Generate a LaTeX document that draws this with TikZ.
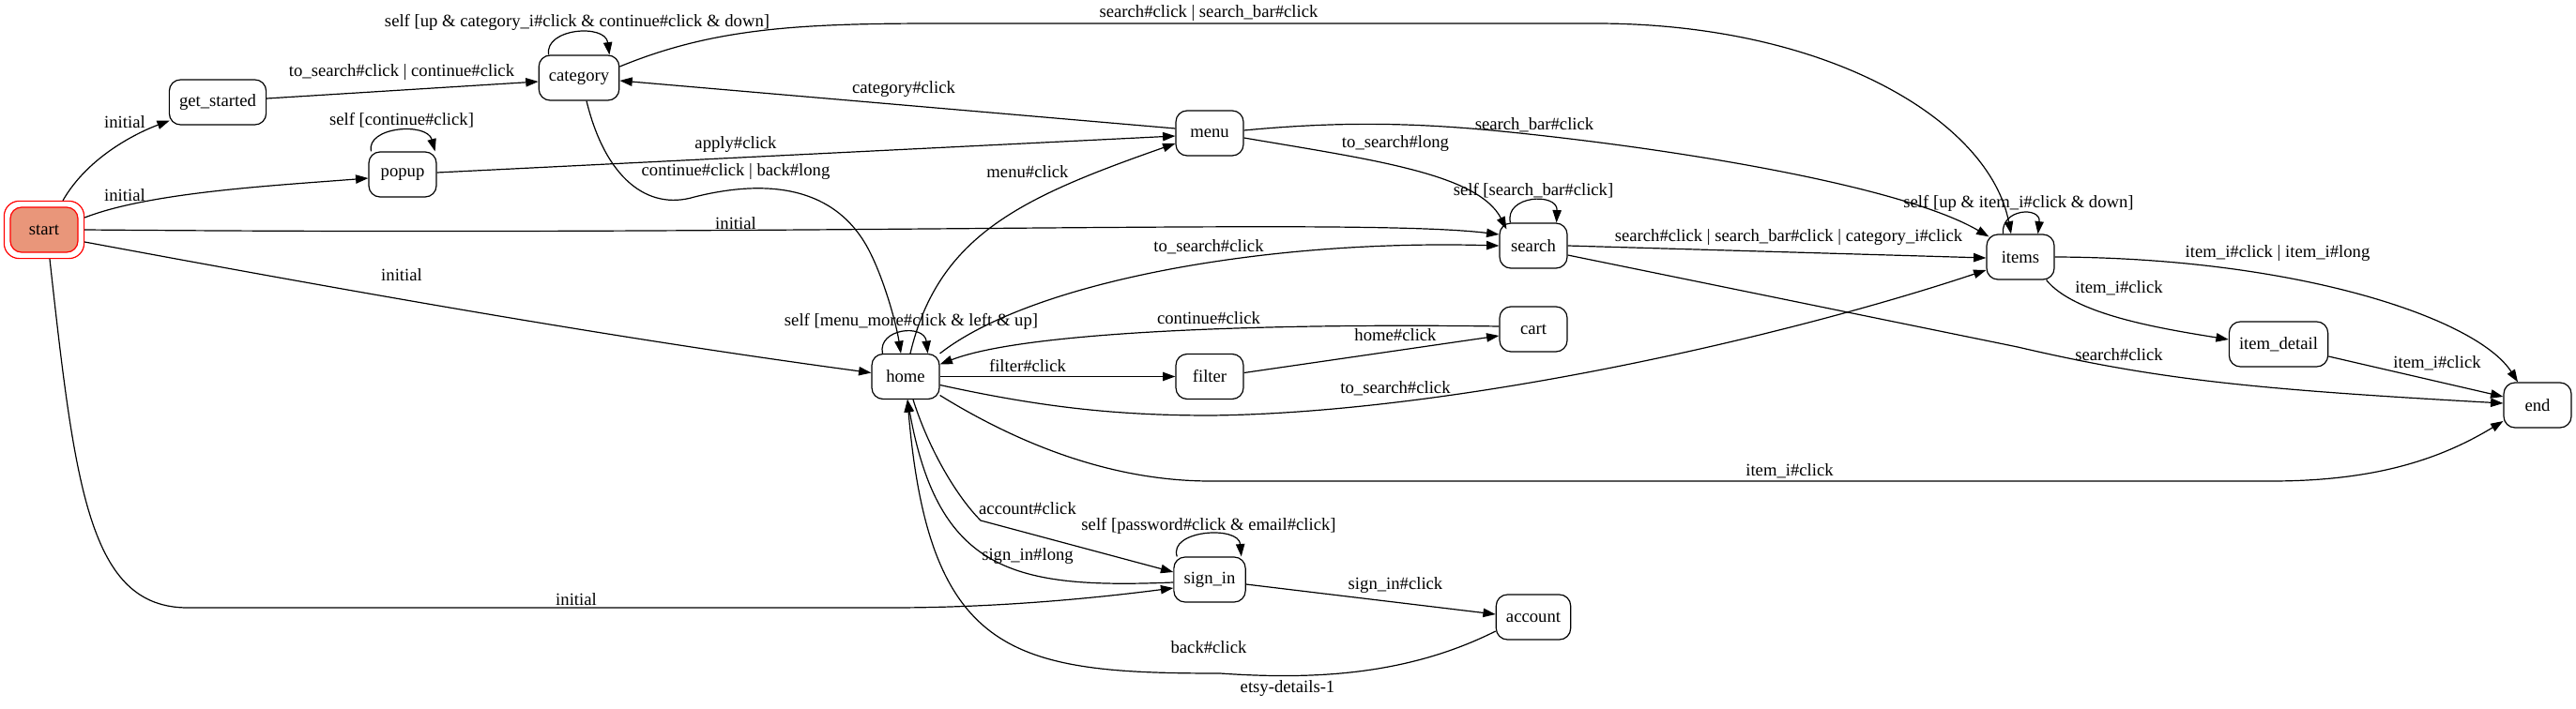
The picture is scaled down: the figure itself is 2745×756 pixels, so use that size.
\documentclass[tikz,border=0pt]{standalone}
\usepackage{fontspec}
\setmainfont{Liberation Serif}
\usetikzlibrary{arrows.meta,fit}
\definecolor{startfill}{RGB}{233,150,122}
\begin{document}
\begin{tikzpicture}[x=0.75pt,y=-0.75pt,
  st/.style={draw, rounded corners=9pt, minimum width=54pt, minimum height=36pt, inner xsep=8pt, inner ysep=4pt, font=\fontsize{14}{16}\selectfont, line width=0.9pt},
  lbl/.style={inner sep=0pt, font=\fontsize{14}{16}\selectfont},
  edge/.style={line width=0.9pt, -{Triangle[length=10pt,width=7pt]}},
]
\fill[white] (0,0) rectangle (2745,756);
\useasboundingbox (0,0) rectangle (2745,756);

% nodes
\node[st, fill=startfill, draw=red] (start) at (47,245) {start};
\node[draw=red, rounded corners=12pt, fit=(start), inner sep=4.5pt, line width=0.9pt] (startouter) {};
\node[st] (get_started) at (232,109) {get\_started};
\node[st] (popup) at (429,186) {popup};
\node[st] (category) at (617,83) {category};
\node[st] (menu) at (1289,142) {menu};
\node[st] (home) at (965,401.5) {home};
\node[st] (filter) at (1289,401.5) {filter};
\node[st] (search) at (1634,262) {search};
\node[st] (cart) at (1634,351) {cart};
\node[st] (items) at (2153,274) {items};
\node[st] (item_detail) at (2428,367) {item\_detail};
\node[st] (endst) at (2704,432) {end};
\node[st] (sign_in) at (1289,618) {sign\_in};
\node[st] (account) at (1634,658) {account};
\node[lbl] (title) at (1372,734) {etsy-details-1};

% edges
\draw[edge] ([shift={(20,0)}]startouter.north) .. controls (95,165) and (150,140) .. ([shift={(1,-5)}]get_started.south west);
\draw[edge] ([shift={(0,-13)}]startouter.east) .. controls (160,205) and (290,198) .. ([shift={(0,4)}]popup.west);
\draw[edge] (startouter.east) .. controls (900,252) and (1450,232) .. ([shift={(0,-12)}]search.west);
\draw[edge] ([shift={(0,13)}]startouter.east) .. controls (370,310) and (650,360) .. ([shift={(0,-4)}]home.west);
\draw[edge] ([shift={(6,0)}]startouter.south) .. controls (80,520) and (95,648) .. (200,648) -- (950,648) .. controls (1050,648) and (1150,640) .. ([shift={(0,9)}]sign_in.west);
\draw[edge] ([shift={(0,-4)}]get_started.east) -- ([shift={(0,4)}]category.west);
\draw[edge] ([shift={(3,0)}]popup.north west) .. controls (390,135) and (455,130) .. ([shift={(-2,0)}]popup.north east);
\draw[edge] ([shift={(0,-2)}]popup.east) -- ([shift={(0,3)}]menu.west);
\draw[edge] ([shift={(11,0)}]category.north west) .. controls (580,30) and (645,25) .. ([shift={(-11,0)}]category.north east);
\draw[edge] ([shift={(0,-12)}]category.east) .. controls (760,30) and (850,25) .. (1000,25) -- (1700,25) .. controls (1950,25) and (2120,130) .. ([shift={(-10,0)}]items.north);
\draw[edge] ([shift={(0,-5)}]menu.west) -- ([shift={(0,3)}]category.east);
\draw[edge] ([shift={(8,0)}]category.south) .. controls (645,190) and (690,225) .. (740,210) .. controls (820,190) and (890,200) .. (925,265) .. controls (942,297) and (955,345) .. ([shift={(-5,0)}]home.north);
\draw[edge] ([shift={(12,0)}]home.north west) .. controls (935,350) and (985,345) .. ([shift={(-13,0)}]home.north east);
\draw[edge] ([shift={(5,0)}]home.north) .. controls (1000,250) and (1090,210) .. ([shift={(0,11)}]menu.west);
\draw[edge] (home.north east) .. controls (1100,300) and (1350,255) .. (search.west);
\draw[edge] ([shift={(0,-3)}]cart.west) .. controls (1400,345) and (1100,350) .. ([shift={(0,-13)}]home.east);
\draw[edge] (home.east) -- (filter.west);
\draw[edge] ([shift={(0,-4)}]filter.east) -- ([shift={(0,7)}]cart.west);
\draw[edge] ([shift={(0,9)}]home.east) .. controls (1100,432) and (1180,443) .. (1290,443) .. controls (1550,440) and (1900,360) .. ([shift={(0,14)}]items.west);
\draw[edge] ([shift={(0,20)}]home.east) .. controls (1080,470) and (1180,513) .. (1290,513) -- (2420,513) .. controls (2530,513) and (2600,490) .. ([shift={(0,17)}]endst.west);
\draw[edge] ([shift={(8,0)}]home.south) .. controls (990,480) and (1020,530) .. (1045,555) -- ([shift={(0,-8)}]sign_in.west);
\draw[edge] ([shift={(0,3)}]sign_in.west) .. controls (1080,628) and (1000,610) .. ([shift={(2,0)}]home.south);
\draw[edge] ([shift={(4,0)}]sign_in.north west) .. controls (1245,565) and (1320,560) .. ([shift={(-5,0)}]sign_in.north east);
\draw[edge] ([shift={(0,5)}]sign_in.east) -- ([shift={(0,-3)}]account.west);
\draw[edge] ([shift={(0,15)}]account.west) .. controls (1500,720) and (1400,725) .. (1300,718) .. controls (1080,718) and (990,700) .. ([shift={(2,0)}]home.south);
\draw[edge] ([shift={(0,5)}]menu.east) .. controls (1460,170) and (1575,185) .. ([shift={(8,7)}]search.north west);
\draw[edge] ([shift={(0,-3)}]menu.east) .. controls (1420,130) and (1500,130) .. (1600,140) .. controls (1800,160) and (2030,200) .. ([shift={(3,3)}]items.north west);
\draw[edge] ([shift={(12,0)}]search.north west) .. controls (1603,208) and (1660,205) .. ([shift={(-12,0)}]search.north east);
\draw[edge] (search.east) -- ([shift={(0,1)}]items.west);
\draw[edge] ([shift={(0,10)}]search.east) -- (2150,370) .. controls (2300,405) and (2400,415) .. ([shift={(0,-2)}]endst.west);
\draw[edge] ([shift={(18,0)}]items.north west) .. controls (2132,222) and (2175,220) .. ([shift={(-18,0)}]items.north east);
\draw[edge] (items.east) .. controls (2450,275) and (2640,340) .. ([shift={(-21,0)}]endst.north);
\draw[edge] ([shift={(-9,0)}]items.south east) .. controls (2210,335) and (2300,350) .. ([shift={(0,-5)}]item_detail.west);
\draw[edge] ([shift={(0,13)}]item_detail.east) -- ([shift={(0,-9)}]endst.west);

% labels
\node[lbl] (l1) at (133,130) {initial};
\node[lbl] (l2) at (133,208) {initial};
\node[lbl] (l3) at (784,238) {initial};
\node[lbl] (l4) at (428,293) {initial};
\node[lbl] (l5) at (614,639) {initial};
\node[lbl] (l6) at (428,77) {to\_search\#click | continue\#click};
\node[lbl] (l7) at (428,128) {self [continue\#click]};
\node[lbl] (l8) at (784,154) {apply\#click};
\node[lbl] (l9) at (615,24) {self [up \& category\_i\#click \& continue\#click \& down]};
\node[lbl] (l10) at (1288,14) {search\#click | search\_bar\#click};
\node[lbl] (l11) at (963,95) {category\#click};
\node[lbl] (l12) at (784,183) {continue\#click | back\#long};
\node[lbl] (l13) at (971,343) {self [menu\_more\#click \& left \& up]};
\node[lbl] (l14) at (1095,183) {menu\#click};
\node[lbl] (l15) at (1288,263) {to\_search\#click};
\node[lbl] (l16) at (1288,339) {continue\#click};
\node[lbl] (l17) at (1095,390) {filter\#click};
\node[lbl] (l18) at (1487,357) {home\#click};
\node[lbl] (l19) at (1487,414) {to\_search\#click};
\node[lbl] (l20) at (1907,502) {item\_i\#click};
\node[lbl] (l21) at (1095,542) {account\#click};
\node[lbl] (l22) at (1095,593) {sign\_in\#long};
\node[lbl] (l23) at (1288,561) {self [password\#click \& email\#click]};
\node[lbl] (l24) at (1487,624) {sign\_in\#click};
\node[lbl] (l25) at (1288,690) {back\#click};
\node[lbl] (l26) at (1487,153) {to\_search\#long};
\node[lbl] (l27) at (1635,133) {search\_bar\#click};
\node[lbl] (l28) at (1634,203) {self [search\_bar\#click]};
\node[lbl] (l29) at (1906,253) {search\#click | search\_bar\#click | category\_i\#click};
\node[lbl] (l30) at (2258,378) {search\#click};
\node[lbl] (l31) at (2151,217) {self [up \& item\_i\#click \& down]};
\node[lbl] (l32) at (2427,270) {item\_i\#click | item\_i\#long};
\node[lbl] (l33) at (2258,307) {item\_i\#click};
\node[lbl] (l34) at (2597,387) {item\_i\#click};
\end{tikzpicture}
\end{document}
